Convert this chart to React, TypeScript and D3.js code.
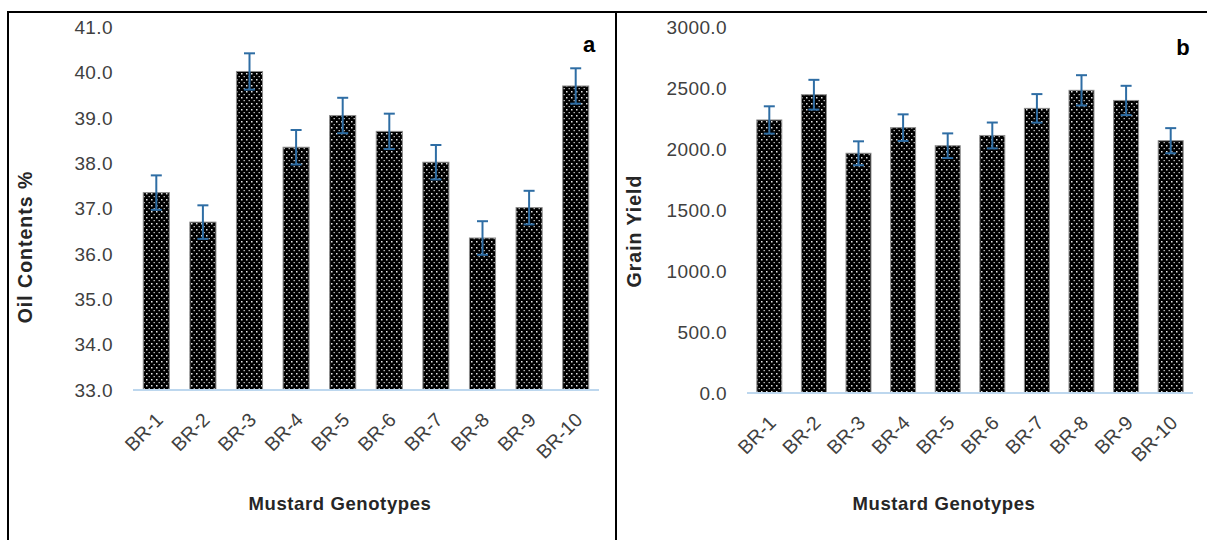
import React from 'react';
import * as d3 from 'd3';

// Mustard genotypes
const genotypes = ['BR-1', 'BR-2', 'BR-3', 'BR-4', 'BR-5', 'BR-6', 'BR-7', 'BR-8', 'BR-9', 'BR-10'];

// Panel a: oil contents %
const oilValues = [37.35, 36.7, 40.02, 38.35, 39.05, 38.7, 38.02, 36.35, 37.02, 39.7];
const oilErrors = [0.38, 0.37, 0.4, 0.38, 0.39, 0.39, 0.38, 0.37, 0.37, 0.39];
const oilTicks = [33, 34, 35, 36, 37, 38, 39, 40, 41];

// Panel b: grain yield
const yieldValues = [2238, 2445, 1965, 2175, 2027, 2111, 2333, 2481, 2398, 2068];
const yieldErrors = [112, 122, 98, 109, 101, 106, 117, 124, 120, 103];
const yieldTicks = [0, 500, 1000, 1500, 2000, 2500, 3000];

const W = 1207;
const H = 540;
const tickFont = '"Liberation Sans", Arial, sans-serif';

type PanelProps = {
  values: number[];
  errors: number[];
  ticks: number[];
  domain: [number, number];
  xRange: [number, number];
  yRange: [number, number];
  yTitle: string;
  yTitleX: number;
  yTitleY: number;
  letter: string;
  letterX: number;
  letterY: number;
};

const Panel = (p: PanelProps) => {
  const x = d3.scaleBand<string>()
    .domain(genotypes)
    .range(p.xRange)
    .paddingInner(0.44)
    .paddingOuter(0.22);
  const y = d3.scaleLinear().domain(p.domain).range(p.yRange);
  const base = y(p.domain[0]);
  const bw = x.bandwidth();
  const cap = 5.5;
  const xMid = (p.xRange[0] + p.xRange[1]) / 2 - 26;

  return (
    <g>
      {/* y tick labels */}
      {p.ticks.map(t => (
        <text key={t} x={p.xRange[0] - 20} y={y(t)} dy="0.36em" textAnchor="end"
          fontFamily={tickFont} fontSize={19} fill="#404040" letterSpacing={0.4}>
          {t.toFixed(1)}
        </text>
      ))}

      {/* bars */}
      {genotypes.map((g, i) => (
        <rect key={g} x={x(g)} y={y(p.values[i])} width={bw} height={base - y(p.values[i])}
          fill="url(#dots)" stroke="#8c8c8c" strokeWidth={1} />
      ))}

      {/* baseline */}
      <line x1={p.xRange[0]} x2={p.xRange[1]} y1={base} y2={base} stroke="#bdd7ee" strokeWidth={2} />

      {/* error bars */}
      {genotypes.map((g, i) => {
        const cx = (x(g) as number) + bw / 2;
        const hi = y(p.values[i] + p.errors[i]);
        const lo = y(p.values[i] - p.errors[i]);
        return (
          <g key={g} stroke="#2e6da4" strokeWidth={2}>
            <line x1={cx} x2={cx} y1={hi} y2={lo} />
            <line x1={cx - cap} x2={cx + cap} y1={hi} y2={hi} />
            <line x1={cx - cap} x2={cx + cap} y1={lo} y2={lo} />
          </g>
        );
      })}

      {/* x tick labels */}
      {genotypes.map(g => {
        const cx = (x(g) as number) + bw / 2;
        return (
          <text key={g} transform={`translate(${cx + 8},${base + 31}) rotate(-45)`}
            textAnchor="end" fontFamily={tickFont} fontSize={19.5} fill="#404040">
            {g}
          </text>
        );
      })}

      {/* axis titles */}
      <text x={xMid} y={510} textAnchor="middle" fontFamily={tickFont} fontWeight="bold"
        fontSize={18.5} letterSpacing={0.6} fill="#262626">
        Mustard Genotypes
      </text>
      <text transform={`translate(${p.yTitleX},${p.yTitleY}) rotate(-90)`} textAnchor="middle"
        fontFamily={tickFont} fontWeight="bold" fontSize={19.5} letterSpacing={1} fill="#262626">
        {p.yTitle}
      </text>

      <text x={p.letterX} y={p.letterY} textAnchor="middle" fontFamily={tickFont}
        fontWeight="bold" fontSize={22} fill="#000">
        {p.letter}
      </text>
    </g>
  );
};

export default function App() {
  return (
    <svg width={W} height={H} style={{ position: 'absolute', left: 0, top: 0, background: '#fff' }}>
      <defs>
        <pattern id="dots" width={5} height={6} patternUnits="userSpaceOnUse">
          <rect width={5} height={6} fill="#000" />
          <rect x={1} y={1} width={1.5} height={1.5} fill="#e6e6e6" />
          <rect x={3.5} y={4} width={1.5} height={1.2} fill="#b0b0b0" />
        </pattern>
      </defs>

      {/* frame */}
      <line x1={7} x2={W} y1={12} y2={12} stroke="#000" strokeWidth={2} />
      <line x1={8} x2={8} y1={11} y2={H} stroke="#000" strokeWidth={2} />
      <line x1={616} x2={616} y1={11} y2={H} stroke="#000" strokeWidth={2} />

      <Panel values={oilValues} errors={oilErrors} ticks={oilTicks} domain={[33, 41]}
        xRange={[133, 599]} yRange={[390, 27]} yTitle="Oil Contents %" yTitleX={32} yTitleY={247}
        letter="a" letterX={589} letterY={52} />
      <Panel values={yieldValues} errors={yieldErrors} ticks={yieldTicks} domain={[0, 3000]}
        xRange={[747, 1193]} yRange={[393, 27]} yTitle="Grain Yield" yTitleX={641} yTitleY={231}
        letter="b" letterX={1183} letterY={55} />
    </svg>
  );
}
